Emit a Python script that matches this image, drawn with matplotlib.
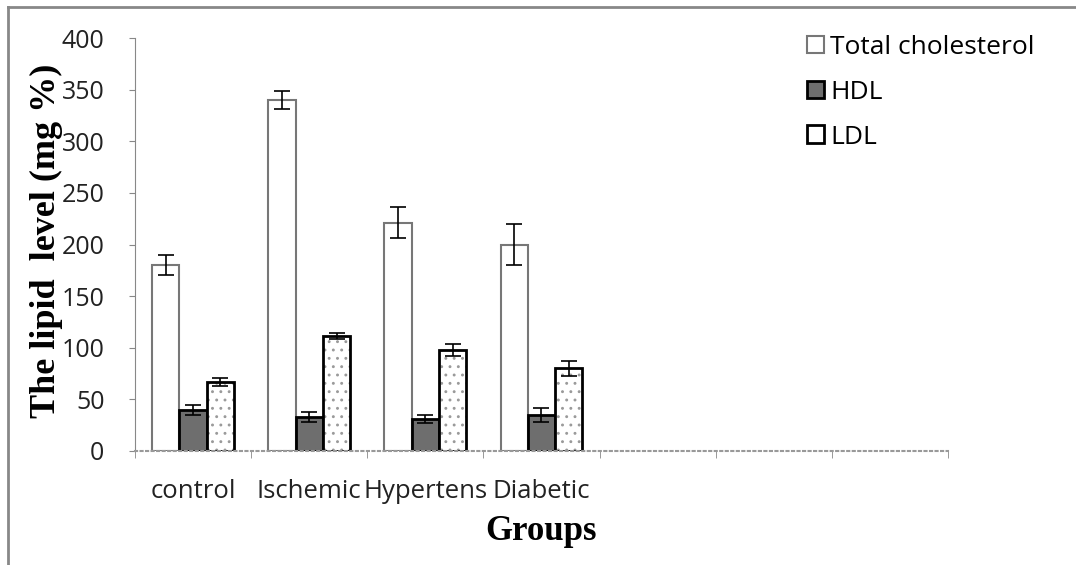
import numpy as np
import matplotlib.pyplot as plt
from matplotlib.lines import Line2D
from matplotlib.patches import Patch

groups = ["control", "Ischemic", "Hypertens", "Diabetic", "", "", ""]
total_chol = [180, 340, 221, 200]
total_err = [10, 9, 15, 20]
hdl = [40, 33, 31, 35]
hdl_err = [5, 5, 4, 7]
ldl = [67, 111, 98, 80]
ldl_err = [4, 3, 6, 7]

plt.rcParams['hatch.linewidth'] = 0.9

fig = plt.figure(figsize=(10.76, 5.65), dpi=100)
ax = fig.add_axes([0.1255, 0.2018, 0.7555, 0.7309])

x = np.arange(len(total_chol))
w = 0.235
ekw = dict(elinewidth=1.2, capthick=1.2, ecolor='black')

ax.bar(x - w, total_chol, w, yerr=total_err, capsize=6, color='white',
       edgecolor='#777777', linewidth=1.5, error_kw=ekw)
ax.bar(x, hdl, w, yerr=hdl_err, capsize=6, color='#6e6e6e',
       edgecolor='black', linewidth=2, error_kw=ekw)
# dotted fill in grey, then the black outline on top
ax.bar(x + w, ldl, w, color='white', hatch='..', edgecolor='#9a9a9a', linewidth=0)
ax.bar(x + w, ldl, w, yerr=ldl_err, capsize=6, fill=False,
       edgecolor='black', linewidth=2, error_kw=ekw)

ax.set_xlim(-0.5, len(groups) - 0.5)
ax.set_ylim(0, 400)
ax.set_yticks(range(0, 401, 50))
ax.set_xticks(np.arange(len(groups)))
ax.set_xticklabels(groups, fontsize=18.5, family='Open Sans', color='#222222')
ax.set_xticks(np.arange(len(groups) + 1) - 0.5, minor=True)
ax.tick_params(axis='x', which='major', length=0, pad=20)
ax.tick_params(axis='x', which='minor', length=5, color='#888888', direction='out')
ax.tick_params(axis='y', length=4, color='#888888', direction='out', pad=18,
               labelsize=18)
for lab in ax.get_yticklabels():
    lab.set_family('Open Sans')
    lab.set_color('#222222')

for s in ['top', 'right']:
    ax.spines[s].set_visible(False)
ax.spines['left'].set_color('#888888')
ax.spines['bottom'].set_color('#999999')
ax.spines['bottom'].set_linestyle(':')
ax.spines['bottom'].set_linewidth(1.5)

ax.set_ylabel('The lipid  level (mg %)', fontsize=26, fontweight='bold',
              family='Liberation Serif')
ax.yaxis.set_label_coords(-0.089, 0.51)
ax.set_xlabel('Groups', fontsize=25, fontweight='bold',
              family='Liberation Serif', labelpad=8)

handles = [Patch(facecolor='white', edgecolor='#777777', linewidth=1.5),
           Patch(facecolor='#6e6e6e', edgecolor='black', linewidth=2),
           Patch(facecolor='white', edgecolor='black', linewidth=2)]
ax.legend(handles, ['Total cholesterol', 'HDL', 'LDL'], loc='upper left',
          bbox_to_anchor=(0.797, 1.065), frameon=False,
          handlelength=0.65, handleheight=0.65, handletextpad=0.25,
          labelspacing=0.75, prop={'family': 'Open Sans', 'size': 19})

# page frame: only top and left edges show
fig.add_artist(Line2D([0.0075, 0.0075], [0.0, 0.987], transform=fig.transFigure,
                      color='#888888', linewidth=2))
fig.add_artist(Line2D([0.0075, 1.0], [0.987, 0.987], transform=fig.transFigure,
                      color='#888888', linewidth=2))

fig.savefig('out.png', dpi=100)
